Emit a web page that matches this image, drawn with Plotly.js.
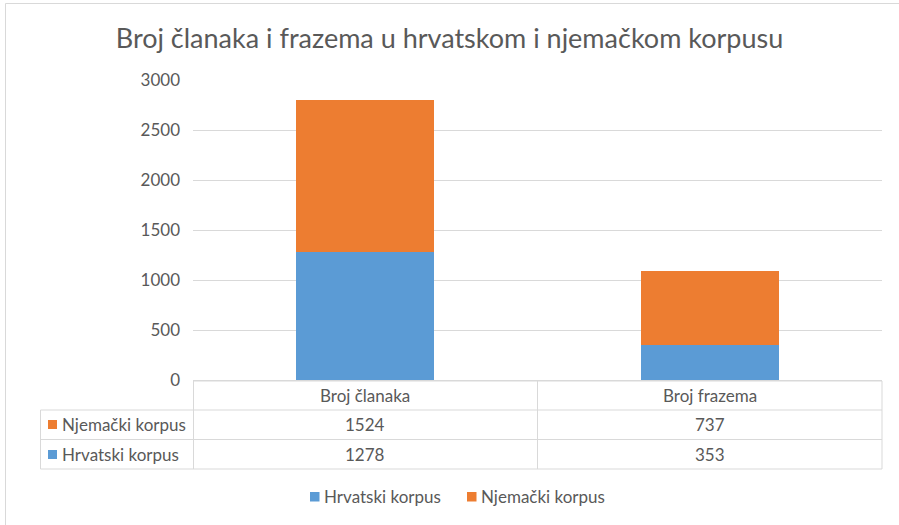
<!DOCTYPE html>
<html><head><meta charset="utf-8">
<script src="https://cdn.plot.ly/plotly-3.0.1.min.js"></script>
<style>html,body{margin:0;padding:0;background:#fff;} #chart{width:899px;height:525px;}</style>
</head><body><div id="chart"></div>
<script>
const categories = ['Broj članaka', 'Broj frazema'];
const seriesNames = ['Hrvatski korpus', 'Njemački korpus'];
const hrvatski = [1278, 353];
const njemacki = [1524, 737];
const yTicks = [0, 500, 1000, 1500, 2000, 2500, 3000];
const colors = ['#5B9BD5', '#ED7D31'];
const title = 'Broj članaka i frazema u hrvatskom i njemačkom korpusu';

const W = 899, H = 525, L = 193, R = 882, T = 80, B = 380;
function px(x) { return (x - L) / (R - L); }
function py(y) { return (B - y) / (B - T); }
const textColor = '#595959', lineColor = '#d9d9d9';
const font = { family: 'Lato, "Open Sans", sans-serif', size: 17, color: textColor };

const traces = [
  { type: 'bar', name: seriesNames[0], x: categories, y: hrvatski, marker: { color: colors[0] }, hoverinfo: 'skip' },
  { type: 'bar', name: seriesNames[1], x: categories, y: njemacki, marker: { color: colors[1] }, hoverinfo: 'skip' }
];

const shapes = [];
const annotations = [];
function line(x0, y0, x1, y1) {
  shapes.push({ type: 'line', xref: 'paper', yref: 'paper', x0: px(x0), y0: py(y0), x1: px(x1), y1: py(y1), line: { color: lineColor, width: 1 } });
}
// chart border
shapes.push({ type: 'rect', xref: 'paper', yref: 'paper', x0: px(5.5), y0: py(3.5), x1: px(W + 5), y1: py(H + 5), line: { color: lineColor, width: 1 }, fillcolor: 'rgba(0,0,0,0)' });
// data table grid
line(L, 381, R, 381);
line(40.5, 410, R, 410);
line(40.5, 439.5, R, 439.5);
line(40.5, 469, R, 469);
line(40.5, 410, 40.5, 469);
line(L + 0.5, 381, L + 0.5, 469);
line((L + R) / 2, 381, (L + R) / 2, 469);
line(R, 381, R, 469);

const rowCenters = [454.5, 424.5]; // Hrvatski row, Njemački row
const rowSeries = [hrvatski, njemacki];
// header
categories.forEach(function (c) {
  annotations.push({ xref: 'x', yref: 'paper', x: c, y: py(395.5), text: c, showarrow: false, font: font, xanchor: 'center', yanchor: 'middle' });
});
for (let s = 0; s < 2; s++) {
  const yc = rowCenters[s];
  shapes.push({ type: 'rect', xref: 'paper', yref: 'paper', x0: px(48), x1: px(57), y0: py(yc - 4.5), y1: py(yc + 4.5), line: { width: 0 }, fillcolor: colors[s] });
  annotations.push({ xref: 'paper', yref: 'paper', x: px(60), y: py(yc), text: seriesNames[s], showarrow: false, font: font, xanchor: 'left', yanchor: 'middle' });
  categories.forEach(function (c, i) {
    annotations.push({ xref: 'x', yref: 'paper', x: c, y: py(yc), text: String(rowSeries[s][i]), showarrow: false, font: font, xanchor: 'center', yanchor: 'middle' });
  });
}
// bottom legend
const legendX = [310, 467];
for (let s = 0; s < 2; s++) {
  shapes.push({ type: 'rect', xref: 'paper', yref: 'paper', x0: px(legendX[s]), x1: px(legendX[s] + 9.5), y0: py(492), y1: py(501.5), line: { width: 0 }, fillcolor: colors[s] });
  annotations.push({ xref: 'paper', yref: 'paper', x: px(legendX[s] + 12), y: py(496.5), text: seriesNames[s], showarrow: false, font: font, xanchor: 'left', yanchor: 'middle' });
}

const layout = {
  width: W, height: H,
  margin: { l: L, r: W - R, t: T, b: H - B, pad: 0 },
  paper_bgcolor: '#fff', plot_bgcolor: '#fff',
  barmode: 'stack', bargap: 0.6,
  showlegend: false,
  font: font,
  title: { text: title, font: { family: 'Lato, "Open Sans", sans-serif', size: 27, color: textColor }, x: 0.5, xanchor: 'center', y: 1 - 39 / H, yanchor: 'middle' },
  xaxis: { type: 'category', showticklabels: false, showgrid: false, zeroline: false, showline: false, fixedrange: true },
  yaxis: { range: [0, 3000], tickvals: yTicks, ticktext: yTicks.map(String), showgrid: true, gridcolor: lineColor, gridwidth: 1, zeroline: true, zerolinecolor: lineColor, showline: false, ticks: '', ticklabelstandoff: 12, tickfont: font, fixedrange: true },
  shapes: shapes,
  annotations: annotations
};
Plotly.newPlot('chart', traces, layout, { displayModeBar: false, staticPlot: true });
</script></body></html>
